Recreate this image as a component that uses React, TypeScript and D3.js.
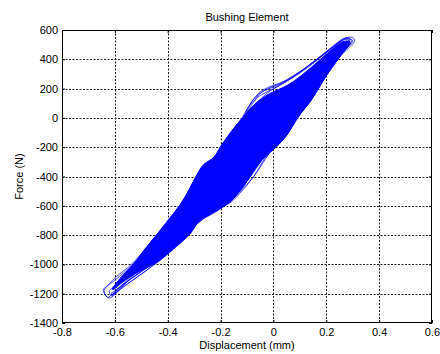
import React, { useEffect, useRef } from "react";
import * as d3 from "d3";

type Pt = [number, number];

// axis ticks
const xTicks = [-0.8, -0.6, -0.4, -0.2, 0, 0.2, 0.4, 0.6];
const yTicks = [-1400, -1200, -1000, -800, -600, -400, -200, 0, 200, 400, 600];

// dense core of the hysteresis band (displacement mm, force N)
const coreUpper: Pt[] = [
  [-0.61, -1170], [-0.575, -1085], [-0.53, -1000], [-0.486, -895], [-0.441, -795],
  [-0.392, -683], [-0.354, -595], [-0.32, -492], [-0.295, -405], [-0.265, -320],
  [-0.225, -268], [-0.2, -195], [-0.146, -62], [-0.108, 20], [-0.07, 95],
  [-0.02, 160], [0.06, 230], [0.14, 340], [0.21, 450], [0.262, 520],
];
const coreLower: Pt[] = [
  [0.29, 520], [0.251, 416], [0.202, 293], [0.138, 109], [0.092, 6],
  [0.051, -117], [0.01, -200], [-0.03, -260], [-0.07, -355], [-0.11, -460],
  [-0.165, -575], [-0.24, -660], [-0.278, -700], [-0.316, -790], [-0.373, -885],
  [-0.441, -985], [-0.52, -1060], [-0.57, -1120], [-0.605, -1170],
];

// individual loops that stray outside the core
const loopA: Pt[] = [
  [-0.634, -1154], [-0.588, -1075], [-0.535, -995], [-0.441, -800], [-0.354, -600],
  [-0.29, -400], [-0.267, -335], [-0.214, -253], [-0.195, -185], [-0.146, -62],
  [-0.108, 20], [-0.078, 122], [-0.04, 190], [0.051, 259], [0.138, 361],
  [0.213, 463], [0.289, 552], [0.308, 532], [0.251, 416], [0.202, 293],
  [0.138, 109], [0.092, 6], [0.051, -117], [0.013, -185], [-0.006, -219],
  [-0.04, -308], [-0.07, -390], [-0.116, -492], [-0.165, -581], [-0.203, -608],
  [-0.278, -697], [-0.316, -793], [-0.373, -888], [-0.441, -990], [-0.505, -1072],
  [-0.573, -1161], [-0.622, -1229], [-0.641, -1188], [-0.634, -1154],
];
const loopB: Pt[] = [
  [-0.622, -1180], [-0.575, -1100], [-0.52, -1000], [-0.43, -810], [-0.345, -610],
  [-0.28, -410], [-0.24, -300], [-0.2, -220], [-0.16, -110], [-0.12, -20],
  [-0.09, 90], [-0.05, 170], [0.02, 225], [0.1, 305], [0.19, 430],
  [0.265, 540], [0.285, 530], [0.24, 420], [0.18, 260], [0.12, 90],
  [0.07, -40], [0.03, -140], [-0.01, -230], [-0.05, -300], [-0.085, -380],
  [-0.125, -470], [-0.18, -560], [-0.25, -650], [-0.32, -760], [-0.4, -900],
  [-0.47, -1010], [-0.54, -1100], [-0.6, -1190], [-0.615, -1215], [-0.622, -1180],
];
const loopC: Pt[] = [
  [-0.615, -1200], [-0.56, -1120], [-0.5, -1010], [-0.42, -840], [-0.34, -640],
  [-0.285, -420], [-0.255, -330], [-0.23, -280], [-0.18, -160], [-0.13, -40],
  [-0.1, 60], [-0.06, 140], [0.0, 200], [0.08, 285], [0.17, 410],
  [0.25, 520], [0.28, 545], [0.295, 525], [0.245, 410], [0.19, 270],
  [0.13, 100], [0.085, -10], [0.04, -130], [0.0, -210], [-0.045, -290],
  [-0.08, -370], [-0.12, -480], [-0.19, -590], [-0.26, -680], [-0.33, -790],
  [-0.41, -930], [-0.48, -1040], [-0.55, -1130], [-0.61, -1205], [-0.615, -1200],
];
const loopD: Pt[] = [
  [-0.645, -1170], [-0.605, -1115], [-0.55, -1030], [-0.49, -920], [-0.44, -815],
  [-0.38, -680], [-0.33, -545], [-0.3, -440], [-0.25, -320], [-0.21, -240],
  [-0.17, -140], [-0.12, -30], [-0.085, 80], [-0.045, 175], [0.03, 240],
  [0.12, 340], [0.2, 450], [0.27, 535], [0.3, 530], [0.26, 440],
  [0.21, 320], [0.15, 140], [0.1, 20], [0.06, -90], [0.02, -180],
  [-0.03, -270], [-0.075, -400], [-0.13, -510], [-0.2, -620], [-0.29, -720],
  [-0.36, -850], [-0.43, -960], [-0.5, -1050], [-0.56, -1125], [-0.6, -1185],
  [-0.628, -1225], [-0.645, -1170],
];
const loopE: Pt[] = [
  [-0.61, -1215], [-0.57, -1150], [-0.52, -1060], [-0.46, -950], [-0.4, -820],
  [-0.35, -690], [-0.31, -560], [-0.275, -450], [-0.235, -350], [-0.19, -250],
  [-0.15, -150], [-0.11, -40], [-0.075, 70], [-0.03, 160], [0.05, 250],
  [0.15, 380], [0.23, 490], [0.275, 548], [0.29, 540], [0.25, 445],
  [0.2, 300], [0.14, 120], [0.09, 0], [0.045, -120], [0.005, -205],
  [-0.04, -275], [-0.08, -360], [-0.12, -455], [-0.17, -560], [-0.24, -640],
  [-0.31, -740], [-0.39, -880], [-0.46, -990], [-0.53, -1085], [-0.59, -1170],
  [-0.61, -1215],
];

export default function App() {
  const ref = useRef<SVGSVGElement>(null);

  useEffect(() => {
    const width = 440;
    const height = 354;
    const marginTop = 30;
    const marginRight = 8;
    const marginBottom = 31;
    const marginLeft = 62;
    const font = "'Liberation Sans', Arial, sans-serif";

    const x = d3.scaleLinear().domain([-0.8, 0.6]).range([marginLeft, width - marginRight]);
    const y = d3.scaleLinear().domain([-1400, 600]).range([height - marginBottom, marginTop]);

    const svg = d3
      .select(ref.current)
      .attr("width", width)
      .attr("height", height)
      .attr("viewBox", [0, 0, width, height].join(" "))
      .style("background", "#fff");

    svg.selectAll("*").remove();

    // grid
    const grid = svg.append("g").attr("stroke", "#222").attr("stroke-width", 1).attr("stroke-dasharray", "2,1.5");
    grid
      .selectAll("line.gx")
      .data(xTicks.slice(1, -1))
      .join("line")
      .attr("x1", (d) => Math.round(x(d)) + 0.5)
      .attr("x2", (d) => Math.round(x(d)) + 0.5)
      .attr("y1", marginTop)
      .attr("y2", height - marginBottom);
    grid
      .selectAll("line.gy")
      .data(yTicks.slice(1, -1))
      .join("line")
      .attr("y1", (d) => Math.round(y(d)) + 0.5)
      .attr("y2", (d) => Math.round(y(d)) + 0.5)
      .attr("x1", marginLeft)
      .attr("x2", width - marginRight);

    // hysteresis band: filled core, then loose loops on top
    svg
      .append("path")
      .datum([...coreUpper, ...coreLower])
      .attr("fill", "#0000ff")
      .attr("stroke", "#0000ff")
      .attr("stroke-width", 1)
      .attr("d", d3.line<Pt>().x((d) => x(d[0])).y((d) => y(d[1])).curve(d3.curveCatmullRomClosed.alpha(0.5)));

    const line = d3
      .line<Pt>()
      .x((d) => x(d[0]))
      .y((d) => y(d[1]))
      .curve(d3.curveCatmullRom.alpha(0.5));

    svg
      .append("g")
      .selectAll("path")
      .data([loopA, loopB, loopC, loopD, loopE])
      .join("path")
      .attr("fill", "none")
      .attr("stroke", "#0000ff")
      .attr("stroke-width", 0.7)
      .attr("d", line);

    // axes with inward ticks
    const fmt = (d: d3.NumberValue) => String(d);
    const styleAxis = (g: d3.Selection<SVGGElement, unknown, null, undefined>) => {
      g.select(".domain").remove();
      g.selectAll("text").attr("font-family", font).attr("font-size", 11).attr("fill", "#000");
      g.selectAll(".tick line").attr("stroke", "#000");
    };

    svg
      .append("g")
      .attr("transform", `translate(0,${height - marginBottom})`)
      .call(d3.axisBottom(x).tickValues(xTicks).tickFormat(fmt).tickSize(-3).tickPadding(5))
      .call(styleAxis);
    svg
      .append("g")
      .attr("transform", `translate(${marginLeft},0)`)
      .call(d3.axisLeft(y).tickValues(yTicks).tickFormat(fmt).tickSize(-3).tickPadding(4))
      .call(styleAxis);
    svg
      .append("g")
      .attr("transform", `translate(0,${marginTop})`)
      .call(d3.axisTop(x).tickValues(xTicks).tickFormat(() => "").tickSize(-3))
      .call(styleAxis);
    svg
      .append("g")
      .attr("transform", `translate(${width - marginRight},0)`)
      .call(d3.axisRight(y).tickValues(yTicks).tickFormat(() => "").tickSize(-3))
      .call(styleAxis);

    // box
    svg
      .append("rect")
      .attr("x", marginLeft + 0.5)
      .attr("y", marginTop + 0.5)
      .attr("width", width - marginLeft - marginRight - 1)
      .attr("height", height - marginTop - marginBottom - 1)
      .attr("fill", "none")
      .attr("stroke", "#000");

    // title and labels
    svg
      .append("text")
      .attr("x", (marginLeft + width - marginRight) / 2)
      .attr("y", 21)
      .attr("text-anchor", "middle")
      .attr("font-family", font)
      .attr("font-size", 11)
      .text("Bushing Element");
    svg
      .append("text")
      .attr("x", (marginLeft + width - marginRight) / 2)
      .attr("y", 349)
      .attr("text-anchor", "middle")
      .attr("font-family", font)
      .attr("font-size", 11)
      .text("Displacement (mm)");
    svg
      .append("text")
      .attr("transform", `translate(23,${(marginTop + height - marginBottom) / 2}) rotate(-90)`)
      .attr("text-anchor", "middle")
      .attr("font-family", font)
      .attr("font-size", 11)
      .text("Force (N)");
  }, []);

  return <svg ref={ref} style={{ position: "absolute", left: 0, top: 0 }} />;
}
